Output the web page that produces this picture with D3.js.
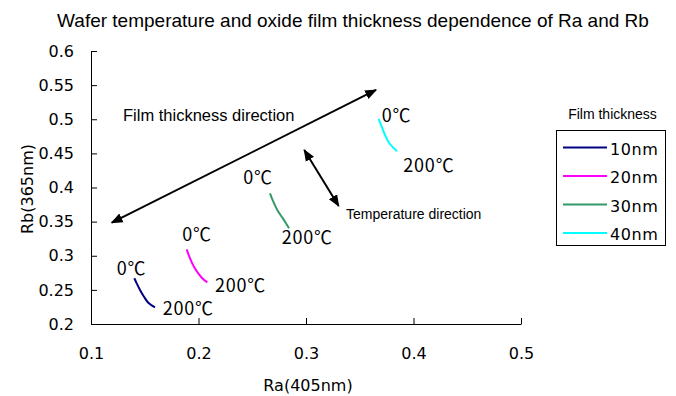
<!DOCTYPE html>
<html>
<head>
<meta charset="utf-8">
<script src="https://cdn.jsdelivr.net/npm/d3@7"></script>
<style>
  html, body { margin: 0; padding: 0; background: #fff; }
  svg { display: block; }
  .jp { font-family: "Noto Sans CJK JP", "DejaVu Sans", sans-serif; }
  .dv { font-family: "DejaVu Sans", sans-serif; }
  .ar { font-family: "Liberation Sans", Arial, sans-serif; }
</style>
</head>
<body>
<svg id="chart" width="676" height="396"></svg>
<script>
// Film thickness series and their colours
const seriesNames = ["10nm", "20nm", "30nm", "40nm"];
const seriesColors = ["#000080", "#ff00ff", "#339966", "#00ffff"];

// Ra(405nm) / Rb(365nm) pairs, swept from 0°C to 200°C
const ra10 = [0.1403, 0.1425, 0.1456, 0.1493, 0.1533, 0.1595];
const rb10 = [0.2670, 0.2596, 0.2498, 0.2400, 0.2312, 0.2245];
const ra20 = [0.1890, 0.1921, 0.1958, 0.1998, 0.2045, 0.2082];
const rb20 = [0.3094, 0.2963, 0.2840, 0.2743, 0.2655, 0.2611];
const ra30 = [0.2665, 0.2696, 0.2733, 0.2774, 0.2805, 0.2842];
const rb30 = [0.3915, 0.3792, 0.3670, 0.3572, 0.3499, 0.3402];
const ra40 = [0.3676, 0.3704, 0.3735, 0.3775, 0.3847];
const rb40 = [0.5004, 0.4891, 0.4769, 0.4648, 0.4531];

// Axis ticks
const xTicks = [0.1, 0.2, 0.3, 0.4, 0.5];
const yTicks = [0.2, 0.25, 0.3, 0.35, 0.4, 0.45, 0.5, 0.55, 0.6];

// Temperature end labels
const tempLabels = ["0℃", "200℃"];

const svg = d3.select("#chart");
const plot = { left: 91, right: 521, top: 51, bottom: 324 };

const x = d3.scaleLinear().domain([0.1, 0.5]).range([plot.left, plot.right]);
const y = d3.scaleLinear().domain([0.2, 0.6]).range([plot.bottom, plot.top]);

// Title
svg.append("text").attr("class", "ar")
  .attr("x", 353).attr("y", 26.5)
  .attr("text-anchor", "middle")
  .attr("font-size", 19)
  .text("Wafer temperature and oxide film thickness dependence of Ra and Rb");

// Axes with inward ticks
const xAxis = d3.axisBottom(x).tickValues(xTicks).tickSize(-6).tickSizeOuter(0)
  .tickFormat(d3.format("~g")).tickPadding(24);
const yAxis = d3.axisLeft(y).tickValues(yTicks).tickSize(-6).tickSizeOuter(0)
  .tickFormat(d3.format("~g")).tickPadding(17);

const gx = svg.append("g").attr("transform", `translate(0,${plot.bottom})`).call(xAxis);
const gy = svg.append("g").attr("transform", `translate(${plot.left},0)`).call(yAxis);
[gx, gy].forEach(g => {
  g.selectAll("path, line").attr("stroke", "#000").attr("stroke-width", 1);
  g.selectAll("text").attr("class", "dv").attr("font-size", 16).attr("fill", "#000");
});

// Axis titles
svg.append("text").attr("class", "dv")
  .attr("x", 308).attr("y", 391).attr("text-anchor", "middle")
  .attr("font-size", 16).text("Ra(405nm)");
svg.append("text").attr("class", "dv")
  .attr("transform", "translate(33,189) rotate(-90)")
  .attr("text-anchor", "middle")
  .attr("font-size", 16).text("Rb(365nm)");

// Curves
const raSets = [ra10, ra20, ra30, ra40];
const rbSets = [rb10, rb20, rb30, rb40];
const line = d3.line().x(d => x(d[0])).y(d => y(d[1])).curve(d3.curveCatmullRom);

raSets.forEach((ra, i) => {
  const pts = ra.map((v, j) => [v, rbSets[i][j]]);
  svg.append("path")
    .attr("d", line(pts))
    .attr("fill", "none")
    .attr("stroke", seriesColors[i])
    .attr("stroke-width", 2);
});

// Temperature labels beside each curve end (data-space anchor points)
const labelPos = [
  [[0.1239, 0.2718], [0.1667, 0.2125]],
  [[0.1849, 0.3209], [0.2153, 0.2476]],
  [[0.2417, 0.4044], [0.2774, 0.3165]],
  [[0.3704, 0.4967], [0.3905, 0.4234]]
];
labelPos.forEach(pair => {
  pair.forEach((p, k) => {
    svg.append("text").attr("class", "jp")
      .attr("x", x(p[0])).attr("y", y(p[1]))
      .attr("font-size", 18).attr("letter-spacing", "0.8px")
      .text(tempLabels[k]);
  });
});

// Direction arrows
const defs = svg.append("defs");
defs.append("marker").attr("id", "ah")
  .attr("viewBox", "0 0 10 10").attr("refX", 9).attr("refY", 5)
  .attr("markerWidth", 6).attr("markerHeight", 6)
  .attr("markerUnits", "strokeWidth")
  .attr("orient", "auto-start-reverse")
  .append("path").attr("d", "M0,1 L10,5 L0,9 Z").attr("fill", "#000");

const arrows = [
  [[0.1193, 0.3484], [0.3651, 0.5429]],
  [[0.2984, 0.4549], [0.3304, 0.3729]]
];
arrows.forEach(a => {
  svg.append("line")
    .attr("x1", x(a[0][0])).attr("y1", y(a[0][1]))
    .attr("x2", x(a[1][0])).attr("y2", y(a[1][1]))
    .attr("stroke", "#000").attr("stroke-width", 2)
    .attr("marker-start", "url(#ah)").attr("marker-end", "url(#ah)");
});

svg.append("text").attr("class", "ar")
  .attr("x", 123).attr("y", 120.5).attr("font-size", 16.5)
  .text("Film thickness direction");
svg.append("text").attr("class", "ar")
  .attr("x", 346).attr("y", 219).attr("font-size", 14)
  .text("Temperature direction");

// Legend
svg.append("text").attr("class", "ar")
  .attr("x", 612.5).attr("y", 118.5).attr("text-anchor", "middle")
  .attr("font-size", 14).text("Film thickness");
svg.append("rect")
  .attr("x", 556.5).attr("y", 130.5).attr("width", 109).attr("height", 115)
  .attr("fill", "none").attr("stroke", "#000").attr("stroke-width", 1);
const legY = d3.scalePoint().domain(seriesNames).range([147.5, 233]);
seriesNames.forEach((n, i) => {
  svg.append("line")
    .attr("x1", 563).attr("x2", 607)
    .attr("y1", legY(n)).attr("y2", legY(n))
    .attr("stroke", seriesColors[i]).attr("stroke-width", 2);
  svg.append("text").attr("class", "dv")
    .attr("x", 610).attr("y", legY(n) + 7)
    .attr("font-size", 16).attr("letter-spacing", "0.6px").text(n);
});
</script>
</body>
</html>
